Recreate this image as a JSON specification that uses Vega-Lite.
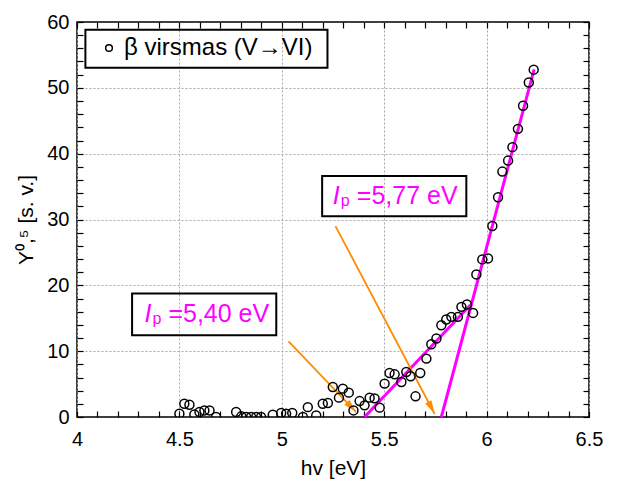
{
  "$schema": "https://vega.github.io/schema/vega-lite/v6.json",
  "width": 512,
  "height": 395,
  "padding": {"left": 15, "top": 12, "right": 30, "bottom": 5},
  "background": "white",
  "config": {
    "font": "Liberation Sans",
    "view": {"stroke": "black", "strokeWidth": 1.5},
    "axis": {"labelColor": "black", "titleColor": "black", "tickColor": "black", "labelFont": "Liberation Sans", "titleFont": "Liberation Sans", "titleFontWeight": "normal", "labelFlush": false}
  },
  "datasets": {
    "pts": [
      {"hv": 4.500, "Y": 0.50}, {"hv": 4.524, "Y": 2.02}, {"hv": 4.549, "Y": 1.87}, {"hv": 4.573, "Y": 0.40},
      {"hv": 4.598, "Y": 0.75}, {"hv": 4.622, "Y": 1.00}, {"hv": 4.647, "Y": 1.00}, {"hv": 4.679, "Y": 0.0},
      {"hv": 4.777, "Y": 0.75}, {"hv": 4.802, "Y": 0.1}, {"hv": 4.826, "Y": 0.0}, {"hv": 4.850, "Y": 0.0},
      {"hv": 4.875, "Y": 0.0}, {"hv": 4.899, "Y": 0.0}, {"hv": 4.956, "Y": 0.35}, {"hv": 4.997, "Y": 0.6},
      {"hv": 5.021, "Y": 0.5}, {"hv": 5.051, "Y": 0.6}, {"hv": 5.103, "Y": 0.0}, {"hv": 5.127, "Y": 1.5},
      {"hv": 5.168, "Y": 0.25}, {"hv": 5.200, "Y": 2.02}, {"hv": 5.225, "Y": 2.12}, {"hv": 5.249, "Y": 4.55},
      {"hv": 5.279, "Y": 2.94}, {"hv": 5.298, "Y": 4.31}, {"hv": 5.327, "Y": 3.70}, {"hv": 5.350, "Y": 1.0},
      {"hv": 5.380, "Y": 2.42}, {"hv": 5.404, "Y": 1.77}, {"hv": 5.429, "Y": 2.94}, {"hv": 5.453, "Y": 2.83},
      {"hv": 5.478, "Y": 1.42}, {"hv": 5.502, "Y": 5.07}, {"hv": 5.526, "Y": 6.68}, {"hv": 5.551, "Y": 6.48},
      {"hv": 5.584, "Y": 5.31}, {"hv": 5.608, "Y": 6.83}, {"hv": 5.629, "Y": 6.18}, {"hv": 5.653, "Y": 3.14},
      {"hv": 5.676, "Y": 6.68}, {"hv": 5.706, "Y": 8.87}, {"hv": 5.730, "Y": 11.05}, {"hv": 5.755, "Y": 11.92},
      {"hv": 5.779, "Y": 13.94}, {"hv": 5.803, "Y": 14.81}, {"hv": 5.828, "Y": 15.21}, {"hv": 5.860, "Y": 15.21},
      {"hv": 5.877, "Y": 16.73}, {"hv": 5.904, "Y": 17.09}, {"hv": 5.934, "Y": 15.81}, {"hv": 5.950, "Y": 21.66},
      {"hv": 5.979, "Y": 23.94}, {"hv": 6.007, "Y": 24.09}, {"hv": 6.028, "Y": 29.01}, {"hv": 6.056, "Y": 33.38},
      {"hv": 6.077, "Y": 37.28}, {"hv": 6.105, "Y": 38.95}, {"hv": 6.126, "Y": 40.99}, {"hv": 6.153, "Y": 43.77},
      {"hv": 6.178, "Y": 47.28}, {"hv": 6.206, "Y": 50.82}, {"hv": 6.230, "Y": 52.76}
    ],
    "fits": [
      {"line": "a", "hv": 5.404, "Y": 0.0}, {"line": "a", "hv": 5.921, "Y": 17.0},
      {"line": "b", "hv": 5.779, "Y": 0.0}, {"line": "b", "hv": 6.232, "Y": 52.8}
    ],
    "arrows": [
      {"id": "a", "xs": 5.033, "ys": 11.5, "xe": 5.363, "ye": 0.75},
      {"id": "b", "xs": 5.262, "ys": 29.0, "xe": 5.746, "ye": 0.5}
    ],
    "boxes": [
      {"bx": 5.197, "bxe": 5.901, "by": 36.62, "bye": 30.5, "tx": 5.249, "ty": 32.36, "val": "=5,77 eV"},
      {"bx": 4.269, "bxe": 4.973, "by": 18.77, "bye": 12.42, "tx": 4.329, "ty": 14.45, "val": "=5,40 eV"}
    ],
    "legendbox": [
      {"bx": 4.041, "bxe": 5.223, "by": 58.84, "bye": 53.06}
    ]
  },
  "resolve": {"axis": {"x": "independent", "y": "independent"}},
  "layer": [
    {
      "data": {"name": "pts"},
      "mark": {"type": "point", "opacity": 0},
      "encoding": {
        "x": {"field": "hv", "type": "quantitative", "scale": {"domain": [4, 6.5], "nice": false, "zero": false},
          "axis": {"orient": "bottom", "values": [4, 4.5, 5, 5.5, 6, 6.5], "grid": true, "ticks": false, "labels": false, "domain": false, "title": null, "gridDash": [2, 2], "gridColor": "#a8a8a8", "gridWidth": 1}},
        "y": {"field": "Y", "type": "quantitative", "scale": {"domain": [0, 60], "nice": false},
          "axis": {"orient": "left", "values": [10, 20, 30, 40, 50], "grid": true, "ticks": false, "labels": false, "domain": false, "title": null, "gridDash": [2, 2], "gridColor": "#a8a8a8", "gridWidth": 1}}
      }
    },
    {
      "data": {"name": "fits"},
      "mark": {"type": "line", "color": "#ff00ff", "strokeWidth": 3},
      "encoding": {
        "x": {"field": "hv", "type": "quantitative",
          "axis": {"orient": "top", "values": [4, 4.1, 4.2, 4.3, 4.4, 4.5, 4.6, 4.7, 4.8, 4.9, 5, 5.1, 5.2, 5.3, 5.4, 5.5, 5.6, 5.7, 5.8, 5.9, 6, 6.1, 6.2, 6.3, 6.4, 6.5], "labels": false, "grid": false, "domain": false, "title": null, "tickSize": -6, "tickWidth": 1.2}},
        "y": {"field": "Y", "type": "quantitative",
          "axis": {"orient": "right", "values": [0, 2, 4, 6, 8, 10, 12, 14, 16, 18, 20, 22, 24, 26, 28, 30, 32, 34, 36, 38, 40, 42, 44, 46, 48, 50, 52, 54, 56, 58, 60], "labels": false, "grid": false, "domain": false, "title": null, "tickSize": -6, "tickWidth": 1.2}},
        "detail": {"field": "line", "type": "nominal"}
      }
    },
    {
      "data": {"name": "arrows"},
      "mark": {"type": "rule", "color": "#ff8c00", "strokeWidth": 1.8},
      "encoding": {
        "x": {"field": "xs", "type": "quantitative", "axis": null},
        "y": {"field": "ys", "type": "quantitative", "axis": null},
        "x2": {"field": "xe"},
        "y2": {"field": "ye"}
      }
    },
    {
      "data": {"name": "arrows"},
      "transform": [{"filter": "datum.id == 'a'"}],
      "mark": {"type": "point", "shape": "M0,0L-0.45,1.7L0.45,1.7Z", "filled": true, "color": "#ff8c00", "opacity": 1, "size": 250, "angle": 136, "strokeWidth": 0},
      "encoding": {
        "x": {"field": "xe", "type": "quantitative", "axis": null},
        "y": {"field": "ye", "type": "quantitative", "axis": null}
      }
    },
    {
      "data": {"name": "arrows"},
      "transform": [{"filter": "datum.id == 'b'"}],
      "mark": {"type": "point", "shape": "M0,0L-0.45,1.7L0.45,1.7Z", "filled": true, "color": "#ff8c00", "opacity": 1, "size": 250, "angle": 152, "strokeWidth": 0},
      "encoding": {
        "x": {"field": "xe", "type": "quantitative", "axis": null},
        "y": {"field": "ye", "type": "quantitative", "axis": null}
      }
    },
    {
      "data": {"name": "pts"},
      "mark": {"type": "point", "filled": false, "color": "black", "size": 80, "strokeWidth": 1.5, "opacity": 1, "clip": true},
      "encoding": {
        "x": {"field": "hv", "type": "quantitative",
          "axis": {"orient": "bottom", "values": [4, 4.1, 4.2, 4.3, 4.4, 4.5, 4.6, 4.7, 4.8, 4.9, 5, 5.1, 5.2, 5.3, 5.4, 5.5, 5.6, 5.7, 5.8, 5.9, 6, 6.1, 6.2, 6.3, 6.4, 6.5],
            "labelExpr": "abs(datum.value*2 - round(datum.value*2)) < 0.01 ? format(datum.value, '~g') : ''",
            "grid": false, "domain": false, "tickSize": -6, "tickWidth": 1.2, "labelPadding": 18, "labelFontSize": 20,
            "title": "hv [eV]", "titleFontSize": 21, "titlePadding": 8}},
        "y": {"field": "Y", "type": "quantitative",
          "axis": {"orient": "left", "values": [0, 2, 4, 6, 8, 10, 12, 14, 16, 18, 20, 22, 24, 26, 28, 30, 32, 34, 36, 38, 40, 42, 44, 46, 48, 50, 52, 54, 56, 58, 60],
            "labelExpr": "datum.value % 10 == 0 ? format(datum.value, 'd') : ''",
            "grid": false, "domain": false, "tickSize": -6, "tickWidth": 1.2, "labelPadding": 14, "labelFontSize": 20,
            "title": "Y⁰,⁵ [s. v.]", "titleFontSize": 21, "titlePadding": 10}},
        "shape": {"datum": "β virsmas (V→VI)", "type": "nominal", "scale": {"range": ["circle"]},
          "legend": {"title": null, "orient": "top-left", "offset": 9, "padding": 5,
            "labelFontSize": 24, "labelColor": "black", "labelFont": "Liberation Sans", "labelLimit": 500, "symbolSize": 45, "symbolStrokeWidth": 1.5,
            "symbolStrokeColor": "black", "symbolFillColor": "transparent", "symbolOffset": 6, "labelOffset": 3}}
      }
    },
    {
      "data": {"name": "legendbox"},
      "mark": {"type": "rect", "filled": false, "stroke": "black", "strokeWidth": 2},
      "encoding": {
        "x": {"field": "bx", "type": "quantitative", "axis": null},
        "x2": {"field": "bxe"},
        "y": {"field": "by", "type": "quantitative", "axis": null},
        "y2": {"field": "bye"}
      }
    },
    {
      "data": {"name": "boxes"},
      "mark": {"type": "rect", "filled": false, "stroke": "black", "strokeWidth": 2},
      "encoding": {
        "x": {"field": "bx", "type": "quantitative", "axis": null},
        "x2": {"field": "bxe"},
        "y": {"field": "by", "type": "quantitative", "axis": null},
        "y2": {"field": "bye"}
      }
    },
    {
      "data": {"name": "boxes"},
      "mark": {"type": "text", "text": "I", "fontStyle": "italic", "fontSize": 25, "color": "#ff00ff", "align": "left", "baseline": "alphabetic"},
      "encoding": {
        "x": {"field": "tx", "type": "quantitative", "axis": null},
        "y": {"field": "ty", "type": "quantitative", "axis": null}
      }
    },
    {
      "data": {"name": "boxes"},
      "mark": {"type": "text", "text": "p", "fontSize": 16, "color": "#ff00ff", "align": "left", "baseline": "alphabetic", "dx": 8, "dy": 2},
      "encoding": {
        "x": {"field": "tx", "type": "quantitative", "axis": null},
        "y": {"field": "ty", "type": "quantitative", "axis": null}
      }
    },
    {
      "data": {"name": "boxes"},
      "mark": {"type": "text", "fontSize": 25, "color": "#ff00ff", "align": "left", "baseline": "alphabetic", "dx": 24},
      "encoding": {
        "x": {"field": "tx", "type": "quantitative", "axis": null},
        "y": {"field": "ty", "type": "quantitative", "axis": null},
        "text": {"field": "val"}
      }
    }
  ]
}
